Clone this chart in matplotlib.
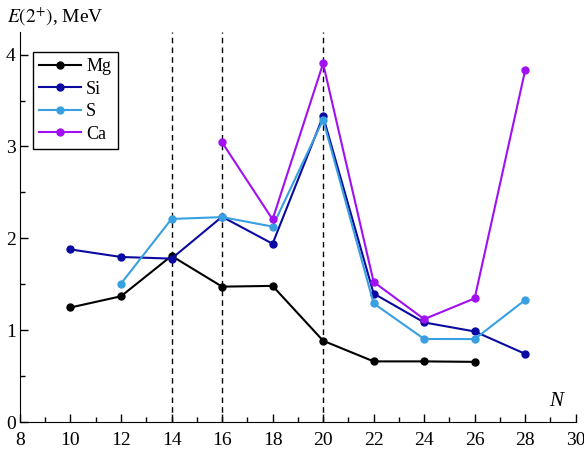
import numpy as np
import matplotlib.pyplot as plt

plt.rcParams['font.family'] = 'Liberation Serif'
plt.rcParams['mathtext.fontset'] = 'stix'

# neutron numbers and E(2+) energies, MeV
n_mg = [10, 12, 14, 16, 18, 20, 22, 24, 26]
e_mg = [1.247, 1.369, 1.809, 1.474, 1.482, 0.885, 0.660, 0.660, 0.655]

n_si = [10, 12, 14, 16, 18, 20, 22, 24, 26, 28]
e_si = [1.879, 1.797, 1.779, 2.235, 1.941, 3.328, 1.399, 1.084, 0.986, 0.742]

n_s = [12, 14, 16, 18, 20, 22, 24, 26, 28]
e_s = [1.507, 2.211, 2.231, 2.128, 3.291, 1.292, 0.904, 0.903, 1.329]

n_ca = [16, 18, 20, 22, 24, 26, 28]
e_ca = [3.045, 2.206, 3.904, 1.525, 1.120, 1.346, 3.832]

magic = [14, 16, 20]

fig = plt.figure(figsize=(5.84, 4.5), dpi=100)
ax = fig.add_axes([0.0342, 0.0622, 0.9516, 0.8674])

for n in magic:
    ax.axvline(n, color='k', ls=(0, (4, 3)), lw=1.0, zorder=1)

ax.plot(n_mg, e_mg, color='black', marker='o', ms=5, lw=1.5, label='Mg')
ax.plot(n_si, e_si, color='#0a0aa0', marker='o', ms=5, lw=1.5, label='Si')
ax.plot(n_s, e_s, color='#38a0e0', marker='o', ms=5, lw=1.5, label='S')
ax.plot(n_ca, e_ca, color='#a010f0', marker='o', ms=5, lw=1.5, label='Ca')

ax.set_xlim(8, 30)
ax.set_ylim(0, 4.25)
ax.set_xticks(np.arange(8, 31, 2))
ax.set_xticks(np.arange(9, 30, 2), minor=True)
ax.set_yticks([0, 1, 2, 3, 4])
ax.set_yticks(np.arange(0.5, 4.1, 1), minor=True)

ax.spines['top'].set_visible(False)
ax.spines['right'].set_visible(False)
ax.tick_params(which='both', direction='in', labelsize=14, width=1)
ax.tick_params(which='major', length=6)
ax.tick_params(which='minor', length=3.5)
ax.tick_params(axis='x', pad=7)
ax.tick_params(axis='y', pad=3)

fig.text(0.012, 0.963, r'$E(2^{+})$, MeV', fontsize=14, va='center', ha='left')
ax.text(29.5, 0.12, 'N', fontsize=15, style='italic', ha='right', va='bottom')

leg = ax.legend(loc='upper left', bbox_to_anchor=(0.0234, 0.948), fontsize=13,
                frameon=True, fancybox=False, edgecolor='black', framealpha=1,
                handlelength=2.3, borderpad=0.35, labelspacing=0.3,
                handletextpad=0.3, borderaxespad=0)
leg.get_frame().set_linewidth(1.0)

fig.savefig('out.png', dpi=100)
